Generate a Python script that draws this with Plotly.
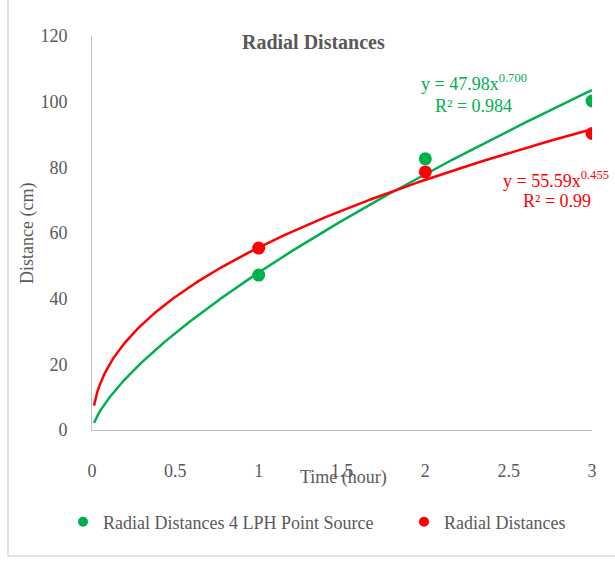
import numpy as np
import plotly.graph_objects as go

time_h = [1, 2, 3]
green_vals = [47.2, 82.6, 100.2]
red_vals = [55.4, 78.6, 90.3]
green_name = "Radial Distances 4 LPH Point Source"
red_name = "Radial Distances"
green_coef, green_exp = 47.98, 0.700
red_coef, red_exp = 55.59, 0.455
trend_start, trend_end = 0.012, 3.0

GREEN = "#00b050"
RED = "#ff0000"
GRAY = "#595959"
FONT = "Liberation Serif"

xs = np.linspace(trend_start, trend_end, 300)

fig = go.Figure()
fig.add_trace(go.Scatter(x=xs, y=green_coef * xs ** green_exp, mode="lines",
                         line=dict(color=GREEN, width=2.5), showlegend=False, hoverinfo="skip"))
fig.add_trace(go.Scatter(x=xs, y=red_coef * xs ** red_exp, mode="lines",
                         line=dict(color=RED, width=2.5), showlegend=False, hoverinfo="skip"))
fig.add_trace(go.Scatter(x=time_h, y=green_vals, mode="markers", name=green_name,
                         marker=dict(color=GREEN, size=13), showlegend=False))
fig.add_trace(go.Scatter(x=time_h, y=red_vals, mode="markers", name=red_name,
                         marker=dict(color=RED, size=13), showlegend=False))
# legend entries
fig.add_trace(go.Scatter(x=[None], y=[None], mode="markers", name=green_name,
                         marker=dict(color=GREEN, size=10), legend="legend"))
fig.add_trace(go.Scatter(x=[None], y=[None], mode="markers", name=red_name,
                         marker=dict(color=RED, size=10), legend="legend2"))

px = lambda p: (p - 92) / 500.0
py = lambda p: (430 - p) / 394.0

legfont = dict(family=FONT, size=18, color=GRAY)
fig.update_layout(
    width=615, height=561,
    margin=dict(l=92, r=23, t=36, b=131),
    paper_bgcolor="white", plot_bgcolor="white",
    font=dict(family=FONT, color=GRAY, size=18),
    xaxis=dict(range=[0, 3], tickvals=[0, 0.5, 1, 1.5, 2, 2.5, 3],
               ticktext=["0", "0.5", "1", "1.5", "2", "2.5", "3"],
               showgrid=False, zeroline=False, showline=True, linecolor="#bfbfbf",
               linewidth=1, ticks="", ticklabelstandoff=24,
               tickfont=dict(family=FONT, size=18, color=GRAY)),
    yaxis=dict(range=[0, 120], tickvals=[0, 20, 40, 60, 80, 100, 120],
               showgrid=False, zeroline=False, showline=True, linecolor="#bfbfbf",
               linewidth=1, ticks="", ticklabelstandoff=20,
               tickfont=dict(family=FONT, size=18, color=GRAY)),
    legend=dict(orientation="h", x=px(63), y=py(522), xanchor="left", yanchor="middle",
                font=legfont, bgcolor="rgba(0,0,0,0)"),
    legend2=dict(orientation="h", x=px(404), y=py(522), xanchor="left", yanchor="middle",
                 font=legfont, bgcolor="rgba(0,0,0,0)"),
    showlegend=True,
)

ann = [
    dict(text="<b>Radial Distances</b>", x=px(313), y=py(42), font=dict(size=20, color=GRAY)),
    dict(text="Time (hour)", x=px(343), y=py(477), font=dict(size=18, color=GRAY)),
    dict(text="Distance (cm)", x=px(27), y=py(234), textangle=-90, font=dict(size=18, color=GRAY)),
    dict(text="y = 47.98x<sup>0.700</sup>", x=px(474), y=py(82), font=dict(size=18, color=GREEN)),
    dict(text="R² = 0.984", x=px(473), y=py(106), font=dict(size=18, color=GREEN)),
    dict(text="y = 55.59x<sup>0.455</sup>", x=px(556), y=py(179), font=dict(size=18, color=RED)),
    dict(text="R² = 0.99", x=px(557), y=py(201), font=dict(size=18, color=RED)),
]
for a in ann:
    fig.add_annotation(xref="paper", yref="paper", showarrow=False,
                       xanchor="center", yanchor="middle", font_family=FONT, **a)

fig.add_shape(type="rect", xref="paper", yref="paper",
              x0=px(8), x1=px(640), y0=py(556), y1=py(-20),
              line=dict(color="#d9d9d9", width=1.5), fillcolor="rgba(0,0,0,0)", layer="below")

fig.write_html("out.html")
